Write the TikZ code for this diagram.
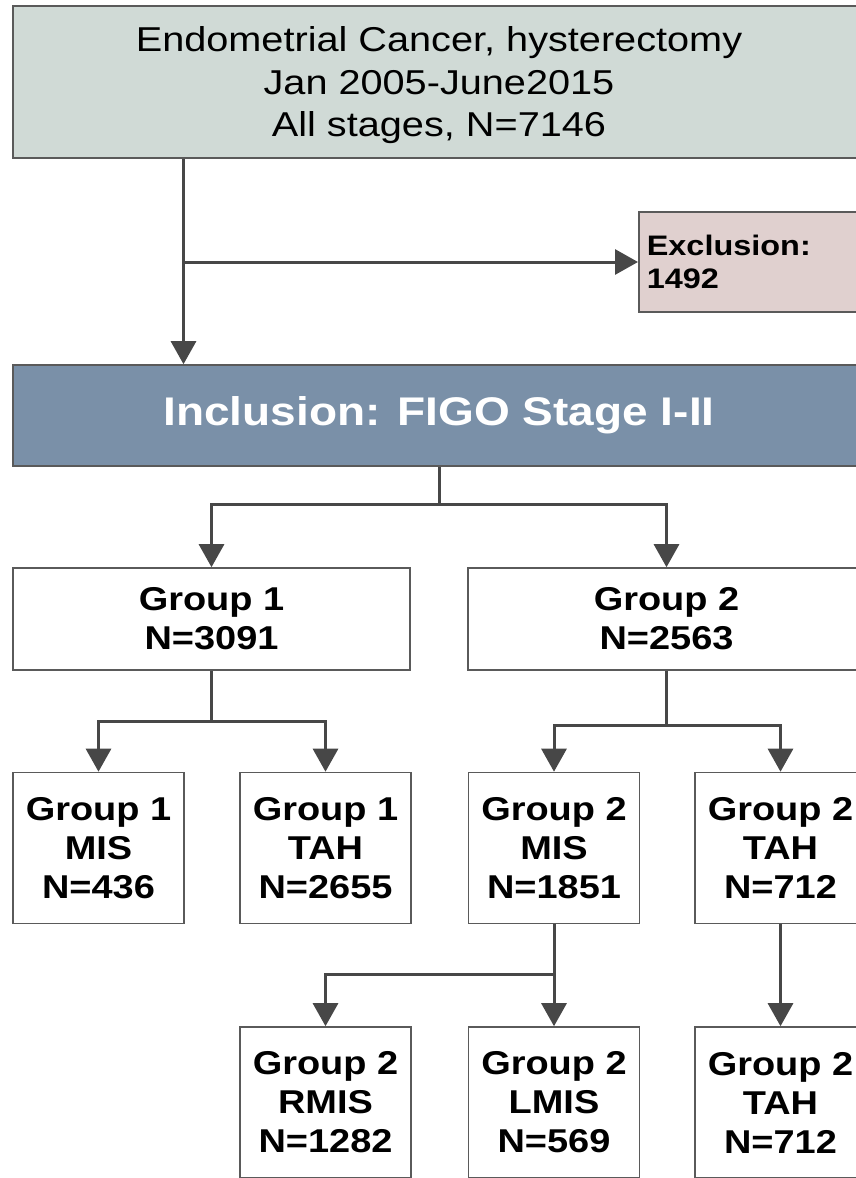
\documentclass[tikz,border=0pt]{standalone}
\usepackage{fontspec}
\setmainfont{Liberation Sans}[FakeStretch=1.15]
\usetikzlibrary{arrows.meta}
\definecolor{topfill}{HTML}{D0DAD6}
\definecolor{exclfill}{HTML}{E0D0CF}
\definecolor{inclfill}{HTML}{7A90A8}
\definecolor{boxline}{HTML}{5A5A5A}
\definecolor{arrowgray}{HTML}{474747}

\begin{document}
\begin{tikzpicture}[x=1pt, y=-1pt,
  flowbox/.style={draw=boxline, line width=1.6pt, inner sep=0pt, align=center},
  groupbox/.style={flowbox, fill=white, font=\bfseries\fontsize{33}{39}\selectfont},
  linkline/.style={draw=arrowgray, line width=3pt},
  arrowline/.style={linkline, -{Triangle[width=25pt, length=23pt]}}]
  \useasboundingbox (0,0) rectangle (856,1178);
  \clip (0,0) rectangle (856,1178);
  % 顶部：全部病例
  \node[flowbox, fill=topfill, minimum width=852pt, minimum height=152pt,
    font=\fontsize{34.5}{42.5}\selectfont] (top) at (439,82)
    {\rule{0pt}{32pt}Endometrial Cancer, hysterectomy\\Jan 2005-June2015\\All stages, N=7146};
  % 排除框，右侧被裁切
  \node[flowbox, fill=exclfill, anchor=west, minimum width=240pt, minimum height=100pt,
    text width=224pt, align=left, font=\bfseries\fontsize{28.2}{33}\selectfont] (excl)
    at (638,262) {Exclusion:\\1492};
  % 纳入标准
  \node[flowbox, fill=inclfill, text=white, minimum width=852pt, minimum height=101pt,
    font=\bfseries\fontsize{40}{46}\selectfont] (incl) at (439,415.5)
    {Inclusion: FIGO Stage I-II};
  % 两组
  \node[groupbox, minimum width=397pt, minimum height=102pt] (g1) at (211.5,619)
    {Group 1\\N=3091};
  \node[groupbox, minimum width=397pt, minimum height=102pt] (g2) at (666.5,619)
    {Group 2\\N=2563};
  % 按术式分
  \node[groupbox, minimum width=171pt, minimum height=151pt] (g1mis) at (98.5,848)
    {Group 1\\MIS\\N=436};
  \node[groupbox, minimum width=171pt, minimum height=151pt] (g1tah) at (325.5,848)
    {Group 1\\TAH\\N=2655};
  \node[groupbox, minimum width=171pt, minimum height=151pt] (g2mis) at (554,848)
    {Group 2\\MIS\\N=1851};
  \node[groupbox, minimum width=171pt, minimum height=151pt] (g2tah) at (780.5,848)
    {Group 2\\TAH\\N=712};
  % 第二组再细分
  \node[groupbox, minimum width=171pt, minimum height=151pt] (g2rmis) at (325.5,1102.5)
    {Group 2\\RMIS\\N=1282};
  \node[groupbox, minimum width=171pt, minimum height=151pt] (g2lmis) at (554,1102.5)
    {Group 2\\LMIS\\N=569};
  \node[groupbox, minimum width=171pt, minimum height=151pt] (g2tahb) at (780.5,1102.5)
    {Group 2\\TAH\\N=712};
  % 连线
  \coordinate (topleg) at (183.5,0);
  \draw[arrowline] (topleg |- top.south) -- (topleg |- incl.north);
  \draw[arrowline] (topleg |- excl.west) -- (excl.west);
  \coordinate (split1) at (439,504);
  \draw[linkline] (incl.south) -- (split1);
  \draw[arrowline] (split1) -| (g1.north);
  \draw[arrowline] (split1) -| (g2.north);
  \coordinate (split2) at (211.5,721);
  \draw[linkline] (g1.south) -- (split2);
  \draw[arrowline] (split2) -| (g1mis.north);
  \draw[arrowline] (split2) -| (g1tah.north);
  \coordinate (split3) at (666.5,725);
  \draw[linkline] (g2.south) -- (split3);
  \draw[arrowline] (split3) -| (g2mis.north);
  \draw[arrowline] (split3) -| (g2tah.north);
  \coordinate (split4) at (554,974);
  \draw[arrowline] (g2mis.south) -- (g2lmis.north);
  \draw[arrowline] (split4) -| (g2rmis.north);
  \draw[arrowline] (g2tah.south) -- (g2tahb.north);
\end{tikzpicture}
\end{document}
